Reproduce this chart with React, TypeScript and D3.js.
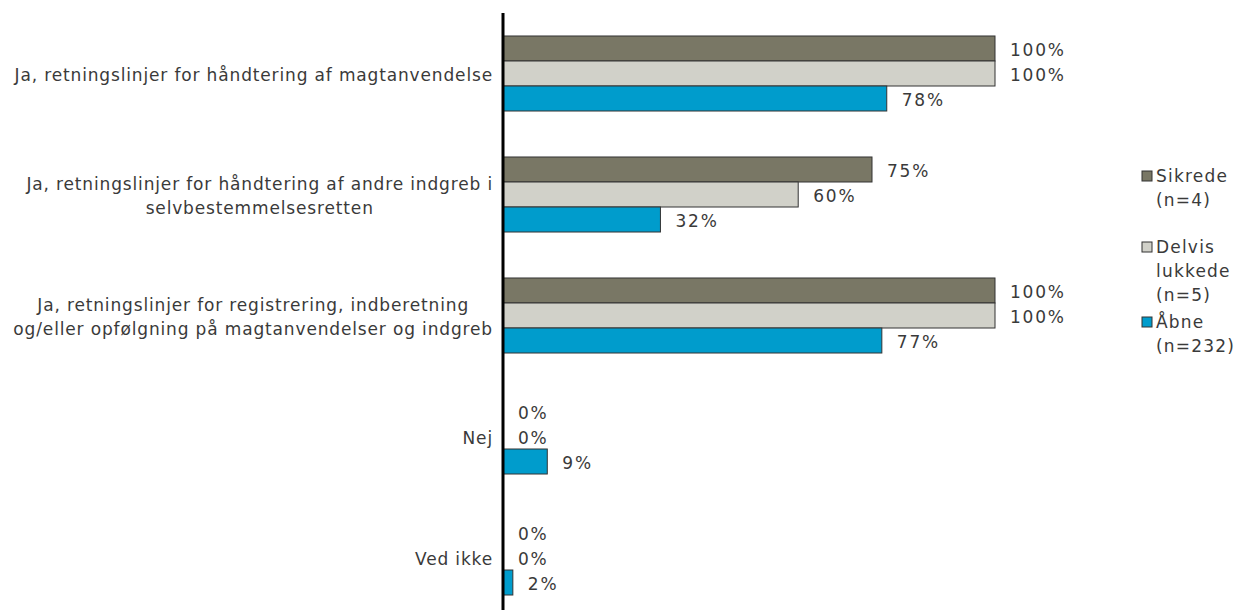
import React, { useEffect, useRef } from "react";
import * as d3 from "d3";

const categories: string[][] = [
  ["Ja, retningslinjer for håndtering af magtanvendelse"],
  ["Ja, retningslinjer for håndtering af andre indgreb i", "selvbestemmelsesretten"],
  ["Ja, retningslinjer for registrering, indberetning", "og/eller opfølgning på magtanvendelser og indgreb"],
  ["Nej"],
  ["Ved ikke"],
];
const seriesNames = ["Sikrede", "Delvis lukkede", "Åbne"];
const legendLines: string[][] = [["Sikrede", "(n=4)"], ["Delvis", "lukkede", "(n=5)"], ["Åbne", "(n=232)"]];
const sikrede = [100, 75, 100, 0, 0];
const delvis = [100, 60, 100, 0, 0];
const aabne = [78, 32, 77, 9, 2];
const colors = ["#797765", "#d1d1c9", "#009ccc"];

const W = 1237, H = 610;
const FONT = "'DejaVu Sans', Verdana, sans-serif";
const FS = 17;
const DY = "0.43em";

export default function App() {
  const ref = useRef<SVGSVGElement>(null);
  useEffect(() => {
    const svg = d3.select(ref.current);
    svg.selectAll("*").remove();
    const x0 = 503;
    const x = d3.scaleLinear().domain([0, 100]).range([x0, 995]);
    const y = d3.scaleBand<number>().domain(d3.range(categories.length)).range([13, 618]).paddingInner(0.38).paddingOuter(0.19);
    const inner = d3.scaleBand<number>().domain([0, 1, 2]).range([0, y.bandwidth()]);
    const series = [sikrede, delvis, aabne];
    const g = svg.append("g");
    categories.forEach((lines, i) => {
      const by = y(i)!;
      series.forEach((vals, s) => {
        const v = vals[i];
        const yy = by + inner(s)!;
        if (v > 0) {
          g.append("rect").attr("x", x(0)).attr("y", yy).attr("width", x(v) - x(0)).attr("height", inner.bandwidth())
            .attr("fill", colors[s]).attr("stroke", "#333").attr("stroke-width", 1);
        }
        g.append("text").attr("x", x(v) + 15).attr("y", yy + inner.bandwidth() / 2).attr("dy", DY)
          .attr("font-family", FONT).attr("font-size", FS).attr("letter-spacing", 1.8).attr("fill", "#3a3a3a").text(`${v}%`);
      });
      const cy = by + y.bandwidth() / 2;
      const lh = 24;
      const t = g.append("text").attr("font-family", FONT).attr("font-size", FS).attr("letter-spacing", 0.85).attr("fill", "#3a3a3a").attr("text-anchor", "middle");
      const spans = lines.map((l, k) => t.append("tspan").attr("y", cy + (k - (lines.length - 1) / 2) * lh).attr("dy", DY).text(l));
      const maxW = d3.max(spans, (sp) => (sp.node() as SVGTSpanElement).getComputedTextLength()) || 0;
      spans.forEach((sp) => sp.attr("x", 493 - maxW / 2));
    });
    g.append("line").attr("x1", x0).attr("x2", x0).attr("y1", 13).attr("y2", H).attr("stroke", "#000").attr("stroke-width", 3);
    const legY = [175, 246, 321];
    legendLines.forEach((lines, s) => {
      const ly = legY[s];
      g.append("rect").attr("x", 1142).attr("y", ly - 4).attr("width", 10).attr("height", 10).attr("fill", colors[s]).attr("stroke", "#333");
      lines.forEach((l, k) => {
        g.append("text").attr("x", 1156).attr("y", ly + k * 24).attr("dy", DY).attr("font-family", FONT).attr("font-size", FS).attr("letter-spacing", 1.2).attr("fill", "#3a3a3a").text(l);
      });
    });
  }, []);
  return (
    <svg ref={ref} width={W} height={H} style={{ position: "absolute", left: 0, top: 0, background: "#fff" }} aria-label={seriesNames.join(", ")} />
  );
}
